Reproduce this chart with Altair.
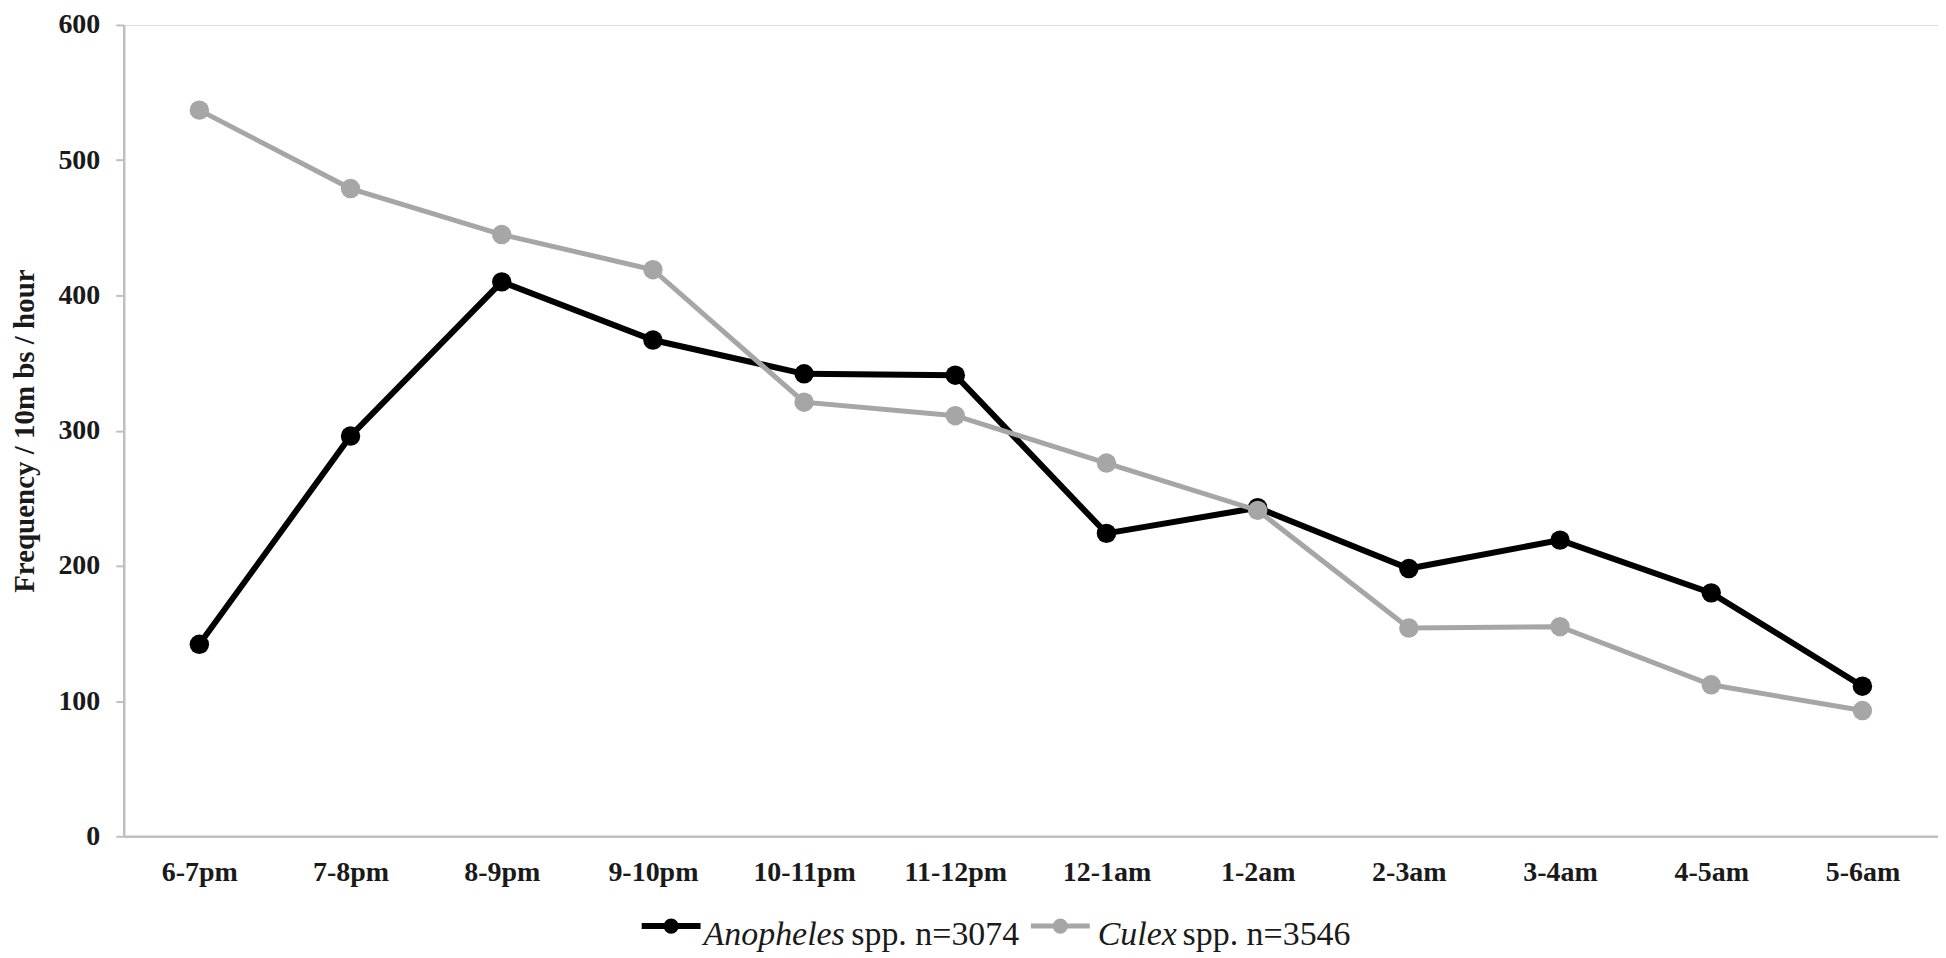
import altair as alt
import pandas as pd

hours = ["6-7pm", "7-8pm", "8-9pm", "9-10pm", "10-11pm", "11-12pm",
         "12-1am", "1-2am", "2-3am", "3-4am", "4-5am", "5-6am"]
anopheles = [142, 296, 410, 367, 342, 341, 224, 243, 198, 219, 180, 111]
culex = [537, 479, 445, 419, 321, 311, 276, 241, 154, 155, 112, 93]
y_ticks = [0, 100, 200, 300, 400, 500, 600]

legend_species = ["Anopheles", "Culex"]
legend_counts = ["spp. n=3074", "spp. n=3546"]

BLACK = "#000000"
GREY = "#a6a6a6"
FONT = "Liberation Serif"
TEXT = "#1a1a1a"
AXIS = "#bfbfbf"

df = pd.DataFrame({
    "hour": hours * 2,
    "value": anopheles + culex,
    "species": ["Anopheles"] * len(hours) + ["Culex"] * len(hours),
})

x_enc = alt.X("hour:N", sort=hours, title=None,
              axis=alt.Axis(labelAngle=0, ticks=False, domainColor=AXIS, domainWidth=2.5,
                            labelFont=FONT, labelFontSize=28, labelFontWeight="bold",
                            labelColor=TEXT, labelPadding=22))
y_enc = alt.Y("value:Q", title="Frequency / 10m bs / hour",
              scale=alt.Scale(domain=[0, 600], nice=False),
              axis=alt.Axis(values=y_ticks, grid=False, domainColor=AXIS, domainWidth=2.5,
                            tickColor=AXIS, tickWidth=2, tickSize=8,
                            labelFont=FONT, labelFontSize=28, labelFontWeight="bold",
                            labelColor=TEXT, labelPadding=16,
                            titleFont=FONT, titleFontSize=29, titleFontWeight="bold",
                            titleColor=TEXT, titlePadding=18))

base = alt.Chart(df).encode(x=x_enc, y=y_enc)

def series(name, color, width):
    sub = base.transform_filter(alt.datum.species == name)
    line = sub.mark_line(color=color, strokeWidth=width)
    pts = sub.mark_point(filled=True, color=color, size=380, opacity=1)
    return line + pts

one = pd.DataFrame({"k": [0]})

def legend_entry(x0, species, count, color, width, x_sp, x_cnt):
    ln = alt.Chart(one).mark_rule(color=color, strokeWidth=width).encode(
        x=alt.value(x0), x2=alt.value(x0 + 59), y=alt.value(903))
    pt = alt.Chart(one).mark_point(filled=True, color=color, size=230, opacity=1).encode(
        x=alt.value(x0 + 29.5), y=alt.value(903))
    t1 = alt.Chart(one).mark_text(text=species, font=FONT, fontSize=34, fontStyle="italic",
                                  align="left", baseline="alphabetic", color=TEXT).encode(
        x=alt.value(x_sp), y=alt.value(922))
    t2 = alt.Chart(one).mark_text(text=count, font=FONT, fontSize=34,
                                  align="left", baseline="alphabetic", color=TEXT).encode(
        x=alt.value(x_cnt), y=alt.value(922))
    return ln + pt + t1 + t2

leg1 = legend_entry(519, legend_species[0], legend_counts[0], BLACK, 6, 581, 729)
leg2 = legend_entry(909, legend_species[1], legend_counts[1], GREY, 5, 976, 1061)

chart = alt.layer(
    series("Anopheles", BLACK, 6),
    series("Culex", GREY, 5),
    leg1, leg2,
).properties(
    width=1818, height=813,
    autosize=alt.AutoSizeParams(type="none"),
    padding={"left": 116, "top": 16, "right": 0, "bottom": 120},
).configure_view(stroke=None).configure(background="white")

chart.save("out.html", embed_options={"renderer": "svg", "actions": False})
